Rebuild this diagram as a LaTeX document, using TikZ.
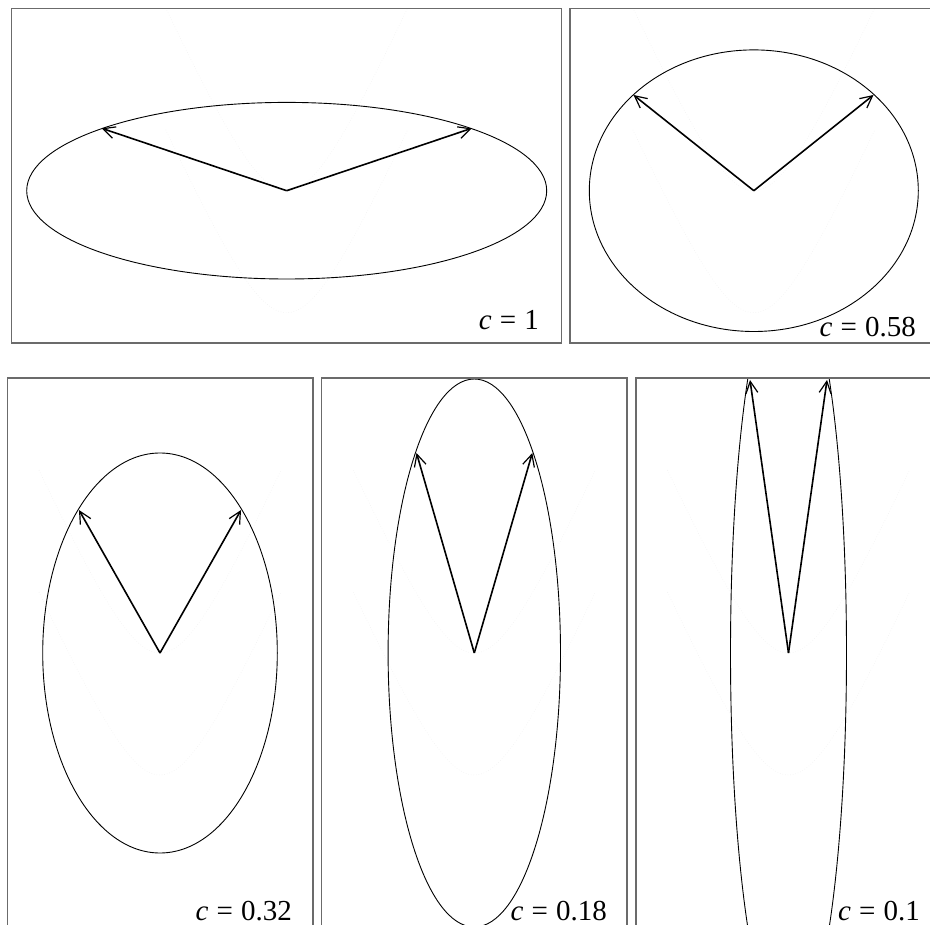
\documentclass[tikz,border=0pt]{standalone}
\usepackage{fontspec}
\setmainfont{Liberation Serif}
\usetikzlibrary{arrows.meta}
\tikzset{
  panelbox/.style={draw=black!58, line width=1.3pt},
  ell/.style={draw=black, line width=0.9pt},
  vec/.style={draw=black, line width=1.6pt,
    -{Straight Barb[length=12pt,width=12pt,line width=1.2pt]}},
  faint/.style={draw=black!5, dotted, line width=0.6pt},
  lbl/.style={anchor=base east, inner sep=0pt, font=\fontsize{29}{31}\selectfont},
}
\newcommand\eqlabel[1]{\textit{c}\hspace{0.28em}=\hspace{0.28em}#1}
\newcommand\faintcurves[1]{%
  \draw[faint, shift={(#1)}] plot[domain=-121:121, samples=61, smooth]
    (\x, {-113*(sqrt(1+(\x/50)^2)-1)});
  \draw[faint, shift={(#1)}, yshift=-122pt] plot[domain=-121:121, samples=61, smooth]
    (\x, {-113*(sqrt(1+(\x/50)^2)-1)});
}
\begin{document}
\begin{tikzpicture}[x=1pt,y=-1pt]
\useasboundingbox (0,0) rectangle (930,925);
\clip (0,0) rectangle (930,925);

% ---------- panel 1 : c = 1
\coordinate (o1) at (286.7,190.7);
\coordinate (t1a) at (101.7,128.3);
\coordinate (t1b) at (471.7,128.3);
\begin{scope}
  \clip (11.5,8.3) rectangle (561.5,343);
  \faintcurves{o1}
  \draw[ell] (o1) ellipse [x radius=260pt, y radius=88.3pt];
  \draw[vec] (o1) -- (t1a);
  \draw[vec] (o1) -- (t1b);
\end{scope}
\draw[panelbox] (11.5,8.3) rectangle (561.5,343);
\node[lbl] (l1) at (539,330) {\eqlabel{1}};

% ---------- panel 2 : c = 0.58
\coordinate (o2) at (753.8,190.7);
\coordinate (t2a) at (633.5,95);
\coordinate (t2b) at (873.5,95);
\begin{scope}
  \clip (570,8.3) rectangle (938,343);
  \faintcurves{o2}
  \draw[ell] (o2) ellipse [x radius=164.5pt, y radius=140.8pt];
  \draw[vec] (o2) -- (t2a);
  \draw[vec] (o2) -- (t2b);
\end{scope}
\draw[panelbox] (570,8.3) rectangle (938,343);
\node[lbl] (l2) at (916,337) {\eqlabel{0.58}};

% ---------- panel 3 : c = 0.32
\coordinate (o3) at (160,653);
\coordinate (t3a) at (79,510);
\coordinate (t3b) at (241,510);
\begin{scope}
  \clip (7.5,378) rectangle (313,928);
  \faintcurves{o3}
  \draw[ell] (o3) ellipse [x radius=117.3pt, y radius=200pt];
  \draw[vec] (o3) -- (t3a);
  \draw[vec] (o3) -- (t3b);
\end{scope}
\draw[panelbox] (7.5,378) rectangle (313,928);
\node[lbl] (l3) at (292,920) {\eqlabel{0.32}};

% ---------- panel 4 : c = 0.18
\coordinate (o4) at (474.3,653);
\coordinate (t4a) at (416.5,453);
\coordinate (t4b) at (532.3,453);
\begin{scope}
  \clip (321.5,378) rectangle (627,928);
  \faintcurves{o4}
  \draw[ell] (o4) ellipse [x radius=86.2pt, y radius=274pt];
  \draw[vec] (o4) -- (t4a);
  \draw[vec] (o4) -- (t4b);
\end{scope}
\draw[panelbox] (321.5,378) rectangle (627,928);
\node[lbl] (l4) at (607,920) {\eqlabel{0.18}};

% ---------- panel 5 : c = 0.1
\coordinate (o5) at (788.5,653);
\coordinate (t5a) at (750,380);
\coordinate (t5b) at (827,380);
\begin{scope}
  \clip (636,378) rectangle (941,928);
  \faintcurves{o5}
  \draw[ell] (o5) ellipse [x radius=58pt, y radius=385pt];
  \draw[vec] (o5) -- (t5a);
  \draw[vec] (o5) -- (t5b);
\end{scope}
\draw[panelbox] (636,378) rectangle (941,928);
\node[lbl] (l5) at (920,920) {\eqlabel{0.1}};
\end{tikzpicture}
\end{document}
